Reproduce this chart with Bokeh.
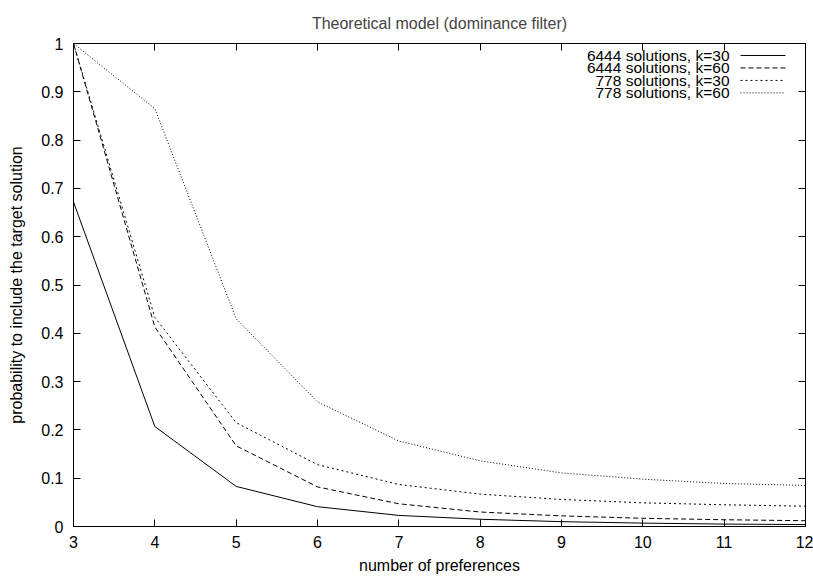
from bokeh.plotting import figure
from bokeh.models import Range1d, LinearAxis, FixedTicker, Label, Arrow
from bokeh.embed import file_html
from bokeh.resources import INLINE

# ---------------- data ----------------
preferences = [3, 4, 5, 6, 7, 8, 9, 10, 11, 12]
sol6444_k30 = [0.672, 0.207, 0.083, 0.041, 0.023, 0.015, 0.010, 0.007, 0.005, 0.004]
sol6444_k60 = [1.0, 0.413, 0.167, 0.082, 0.047, 0.030, 0.022, 0.017, 0.014, 0.012]
sol778_k30 = [1.0, 0.433, 0.215, 0.128, 0.087, 0.067, 0.056, 0.049, 0.045, 0.042]
sol778_k60 = [1.0, 0.865, 0.430, 0.258, 0.177, 0.136, 0.111, 0.098, 0.089, 0.085]
series_labels = ["6444 solutions, k=30", "6444 solutions, k=60",
                 "778 solutions, k=30", "778 solutions, k=60"]
x_ticks = [3, 4, 5, 6, 7, 8, 9, 10, 11, 12]
y_ticks = [0, 0.1, 0.2, 0.3, 0.4, 0.5, 0.6, 0.7, 0.8, 0.9, 1]
y_tick_labels = ["0", "0.1", "0.2", "0.3", "0.4", "0.5", "0.6", "0.7", "0.8", "0.9", "1"]

# ---------------- layout ----------------
W, H = 813, 576
FL, FR, FT, FB = 73, 805, 43, 527   # frame edges in figure pixels
FONT = "Liberation Sans"
FS = "16px"
dashes = ["solid", "5 3", "2 3", "1 2"]

p = figure(width=W, height=H, output_backend="svg", toolbar_location=None,
           x_range=Range1d(3, 12), y_range=Range1d(0, 1),
           min_border_left=FL, min_border_right=W - FR,
           min_border_top=FT, min_border_bottom=H - FB,
           title="Theoretical model (dominance filter)")
p.title.align = "center"
p.title.text_font = FONT
p.title.text_font_size = FS
p.title.text_font_style = "normal"
p.title.standoff = 23

p.xgrid.visible = False
p.ygrid.visible = False
p.outline_line_color = "black"
p.outline_line_width = 1
p.background_fill_color = "white"
p.border_fill_color = "white"

p.xaxis.ticker = FixedTicker(ticks=x_ticks)
p.yaxis.ticker = FixedTicker(ticks=y_ticks)
p.yaxis.major_label_overrides = {t: l for t, l in zip(y_ticks, y_tick_labels)}
p.xaxis.axis_label = "number of preferences"
p.yaxis.axis_label = "probability to include the target solution"

for ax in [p.xaxis[0], p.yaxis[0]]:
    ax.major_tick_in = 7
    ax.major_tick_out = 0
    ax.minor_tick_line_color = None
    ax.axis_line_color = "black"
    ax.major_tick_line_color = "black"
    ax.major_label_text_font = FONT
    ax.major_label_text_font_size = FS
    ax.major_label_text_color = "black"
    ax.axis_label_text_font = FONT
    ax.axis_label_text_font_size = FS
    ax.axis_label_text_font_style = "normal"
    ax.axis_label_text_color = "black"
p.xaxis.major_label_standoff = 9
p.yaxis.major_label_standoff = 10
p.xaxis.axis_label_standoff = 6
p.yaxis.axis_label_standoff = 13

# mirror ticks on top and right
top = LinearAxis(ticker=FixedTicker(ticks=x_ticks), major_tick_in=7, major_tick_out=0,
                 minor_tick_line_color=None, major_label_text_font_size="0px",
                 axis_line_color="black", major_label_standoff=0)
right = LinearAxis(ticker=FixedTicker(ticks=y_ticks), major_tick_in=7, major_tick_out=0,
                   minor_tick_line_color=None, major_label_text_font_size="0px",
                   axis_line_color="black", major_label_standoff=0)
p.add_layout(top, "above")
p.add_layout(right, "right")

series = [sol6444_k30, sol6444_k60, sol778_k30, sol778_k60]
for vals, dash in zip(series, dashes):
    p.line(preferences, vals, line_color="black", line_width=1, line_dash=dash)

# ---------------- legend (gnuplot style: text then sample) ----------------
def fx(px):  # canvas pixel -> data x
    return 3 + (px - FL) / (FR - FL) * 9

def fy(py):  # canvas pixel -> data y
    return (FB - py) / (FB - FT)

row_y = [55, 67.5, 80, 92.5]
for lab, dash, ry in zip(series_labels, dashes, row_y):
    p.add_layout(Label(x=fx(729), y=fy(ry), text=lab, text_align="right",
                       text_baseline="middle", text_font=FONT, text_font_size="15.5px",
                       text_color="black"))
    p.add_layout(Arrow(end=None, x_start=fx(740), y_start=fy(ry), x_end=fx(785), y_end=fy(ry),
                       line_color="black", line_width=1, line_dash=dash))

open("out.html", "w").write(file_html(p, INLINE))
